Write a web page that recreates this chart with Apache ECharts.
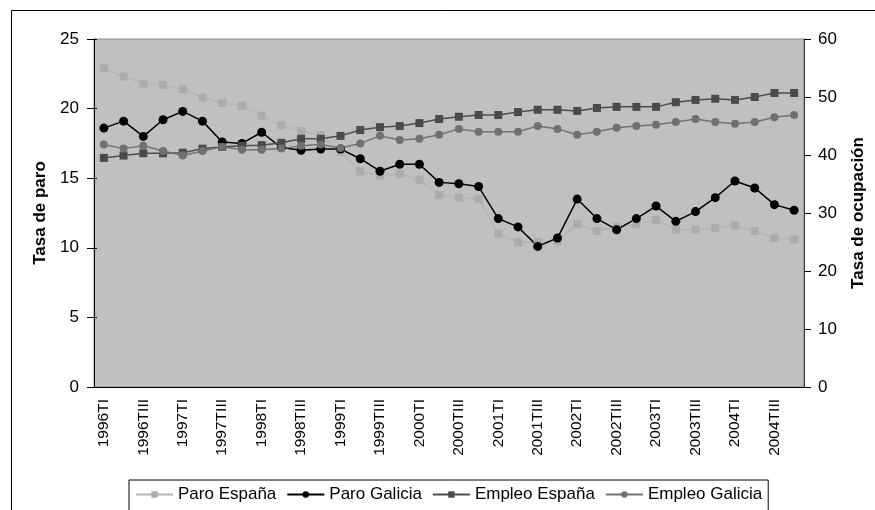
<!DOCTYPE html>
<html>
<head>
<meta charset="utf-8">
<script src="https://cdn.jsdelivr.net/npm/echarts@6/dist/echarts.min.js"></script>
<style>
  html, body { margin: 0; padding: 0; background: #fff; }
  #chart { width: 875px; height: 510px; }
</style>
</head>
<body>
<div id="chart"></div>
<script>
// trimestres 1996TI .. 2004TIV
var trimestres = [];
var anios = ['1996', '1997', '1998', '1999', '2000', '2001', '2002', '2003', '2004'];
var sufijos = ['TI', 'TII', 'TIII', 'TIV'];
anios.forEach(function (a) {
  sufijos.forEach(function (s) { trimestres.push(a + s); });
});

// tasa de paro (eje izquierdo)
var paroEspana = [22.9, 22.3, 21.8, 21.7, 21.4, 20.8, 20.4, 20.2, 19.5, 18.8, 18.4, 18.1,
                  16.9, 15.5, 15.2, 15.3, 14.9, 13.8, 13.6, 13.5, 11.0, 10.4, 10.4, 10.5,
                  11.7, 11.2, 11.5, 11.7, 12.0, 11.3, 11.3, 11.4, 11.6, 11.2, 10.7, 10.6];
var paroGalicia = [18.6, 19.1, 18.0, 19.2, 19.8, 19.1, 17.6, 17.5, 18.3, 17.2, 17.0, 17.1,
                   17.1, 16.4, 15.5, 16.0, 16.0, 14.7, 14.6, 14.4, 12.1, 11.5, 10.1, 10.7,
                   13.5, 12.1, 11.3, 12.1, 13.0, 11.9, 12.6, 13.6, 14.8, 14.3, 13.1, 12.7];

// tasa de ocupacion (eje derecho)
var empleoEspana = [39.5, 39.9, 40.3, 40.3, 40.4, 41.1, 41.4, 41.6, 41.7, 42.1, 42.8, 42.8,
                    43.3, 44.3, 44.8, 45.0, 45.5, 46.2, 46.6, 46.9, 46.9, 47.4, 47.8, 47.8,
                    47.6, 48.1, 48.3, 48.3, 48.3, 49.1, 49.5, 49.7, 49.5, 50.0, 50.7, 50.7];
var empleoGalicia = [41.8, 41.1, 41.6, 40.7, 39.9, 40.7, 41.4, 40.9, 40.9, 41.1, 41.6, 41.8,
                     41.2, 42.0, 43.3, 42.6, 42.8, 43.5, 44.5, 44.0, 44.0, 44.0, 45.0, 44.5,
                     43.5, 44.0, 44.7, 45.0, 45.2, 45.7, 46.2, 45.7, 45.4, 45.7, 46.5, 46.9];

var fuente = 'Liberation Sans, Arial, sans-serif';

var chart = echarts.init(document.getElementById('chart'));

chart.setOption({
  animation: false,
  textStyle: { fontFamily: fuente },
  graphic: [
    {
      type: 'rect',
      z: -10,
      shape: { x: 11.5, y: 10.5, width: 900, height: 600 },
      style: { fill: 'none', stroke: '#000', lineWidth: 1 }
    }
  ],
  grid: {
    left: 94, top: 39, right: 68, bottom: 123,
    show: true,
    backgroundColor: '#c0c0c0',
    borderColor: '#8c8c8c',
    borderWidth: 1
  },
  legend: {
    left: 129, top: 480,
    orient: 'horizontal',
    borderColor: '#000', borderWidth: 1,
    padding: [6, 6, 40, 6],
    itemWidth: 37, itemHeight: 8, itemGap: 10,
    textStyle: { fontSize: 17, color: '#000', fontFamily: fuente },
    data: ['Paro España', 'Paro Galicia', 'Empleo España', 'Empleo Galicia']
  },
  xAxis: [
    {
      type: 'category',
      data: trimestres,
      boundaryGap: true,
      axisLine: { lineStyle: { color: '#000', width: 1 } },
      axisTick: { interval: 0, length: 8, lineStyle: { color: '#000' } },
      axisLabel: { interval: 1, rotate: 90, margin: 12, fontSize: 15.5, color: '#000' },
      splitLine: { show: false }
    },
    {
      type: 'category',
      data: trimestres,
      position: 'bottom',
      boundaryGap: true,
      axisLine: { show: false },
      axisTick: { interval: 0, inside: true, length: 4, lineStyle: { color: '#000' } },
      axisLabel: { show: false },
      splitLine: { show: false }
    }
  ],
  yAxis: [
    {
      type: 'value',
      position: 'left',
      min: 0, max: 25, interval: 5,
      name: 'Tasa de paro',
      nameLocation: 'middle', nameRotate: 90, nameGap: 43,
      nameTextStyle: { fontSize: 17, fontWeight: 'bold', color: '#000' },
      axisLine: { show: true, lineStyle: { color: '#000' } },
      axisTick: { show: true, length: 7, lineStyle: { color: '#000' } },
      axisLabel: { fontSize: 17, color: '#000', margin: 15 },
      splitLine: { show: false }
    },
    {
      type: 'value',
      position: 'right',
      min: 0, max: 60, interval: 10,
      name: 'Tasa de ocupación',
      nameLocation: 'middle', nameRotate: 90, nameGap: 46,
      nameTextStyle: { fontSize: 17, fontWeight: 'bold', color: '#000' },
      axisLine: { show: true, lineStyle: { color: '#333' } },
      axisTick: { show: true, length: 7, lineStyle: { color: '#000' } },
      axisLabel: { fontSize: 17, color: '#000', margin: 14 },
      splitLine: { show: false }
    },
    {
      type: 'value',
      position: 'left',
      min: 0, max: 25, interval: 5,
      axisLine: { show: false },
      axisTick: { show: true, inside: true, length: 3, lineStyle: { color: '#000' } },
      axisLabel: { show: false },
      splitLine: { show: false }
    }
  ],
  series: [
    {
      name: 'Paro España',
      type: 'line',
      yAxisIndex: 0,
      data: paroEspana,
      symbol: 'rect', symbolSize: 8,
      lineStyle: { color: '#b4b4b4', width: 1.5 },
      itemStyle: { color: '#acacac' }
    },
    {
      name: 'Paro Galicia',
      type: 'line',
      yAxisIndex: 0,
      data: paroGalicia,
      symbol: 'circle', symbolSize: 9,
      lineStyle: { color: '#000', width: 1.5 },
      itemStyle: { color: '#000' }
    },
    {
      name: 'Empleo España',
      type: 'line',
      yAxisIndex: 1,
      data: empleoEspana,
      symbol: 'rect', symbolSize: 8,
      lineStyle: { color: '#4d4d4d', width: 1.5 },
      itemStyle: { color: '#4a4a4a' }
    },
    {
      name: 'Empleo Galicia',
      type: 'line',
      yAxisIndex: 1,
      data: empleoGalicia,
      symbol: 'circle', symbolSize: 8,
      lineStyle: { color: '#737373', width: 1.5 },
      itemStyle: { color: '#707070' }
    }
  ]
});
</script>
</body>
</html>
